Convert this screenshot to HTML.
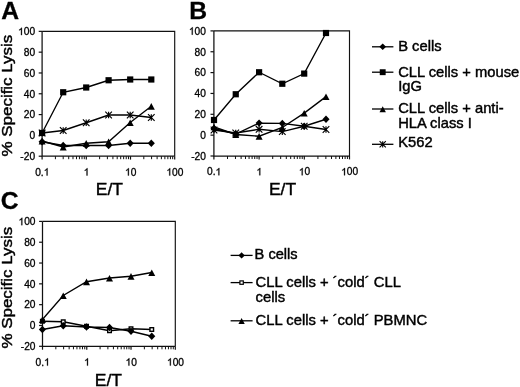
<!DOCTYPE html>
<html><head><meta charset="utf-8"><title>Figure</title>
<style>
html,body{margin:0;padding:0;background:#fff;}
svg{display:block;filter:blur(0.55px);}
text{font-family:"Liberation Sans",sans-serif;fill:#000;stroke:#000;stroke-width:0.3px;}
.t{font-size:10.2px;}
.L{font-size:23.5px;font-weight:bold;}
.X{font-size:17px;stroke-width:0.4px;}
.Y{font-size:15.4px;stroke-width:0.45px;}
.G{font-size:13.9px;stroke-width:0.42px;}
</style></head><body>
<svg width="520" height="387" viewBox="0 0 520 387">
<rect width="520" height="387" fill="#fff"/>
<path d="M42.10 31.35H174.70V156.20" stroke="#111" stroke-width="1.15" fill="none"/>
<path d="M42.10 31.35V156.20H174.70" stroke="#111" stroke-width="1.25" fill="none"/>
<path d="M38.70 31.35H42.10" stroke="#111" stroke-width="1.2"/>
<path transform="translate(18.09,35.10) scale(0.004980)" d="M763 0H583V-1147Q518 -1085 412.5 -1023Q307 -961 223 -930V-1104Q374 -1175 487 -1276Q600 -1377 647 -1472H763Z" fill="#000" stroke="#000" stroke-width="60.2"/><text x="23.76" y="35.10" class="t">00</text>
<path d="M38.70 52.16H42.10" stroke="#111" stroke-width="1.2"/>
<text x="23.76" y="55.91" class="t">80</text>
<path d="M38.70 72.97H42.10" stroke="#111" stroke-width="1.2"/>
<text x="23.76" y="76.72" class="t">60</text>
<path d="M38.70 93.77H42.10" stroke="#111" stroke-width="1.2"/>
<text x="23.76" y="97.52" class="t">40</text>
<path d="M38.70 114.58H42.10" stroke="#111" stroke-width="1.2"/>
<text x="23.76" y="118.33" class="t">20</text>
<path d="M38.70 135.39H42.10" stroke="#111" stroke-width="1.2"/>
<text x="29.43" y="139.14" class="t">0</text>
<path d="M38.70 156.20H42.10" stroke="#111" stroke-width="1.2"/>
<text x="20.36" y="159.95" class="t">-20</text>
<path d="M42.10 156.20V159.60" stroke="#111" stroke-width="1.2"/>
<text x="35.21" y="175.50" class="t">0.</text><path transform="translate(43.72,175.50) scale(0.004980)" d="M763 0H583V-1147Q518 -1085 412.5 -1023Q307 -961 223 -930V-1104Q374 -1175 487 -1276Q600 -1377 647 -1472H763Z" fill="#000" stroke="#000" stroke-width="60.2"/>
<path d="M55.41 156.20V159.20" stroke="#111" stroke-width="1.0"/>
<path d="M63.19 156.20V159.20" stroke="#111" stroke-width="1.0"/>
<path d="M68.71 156.20V159.20" stroke="#111" stroke-width="1.0"/>
<path d="M72.99 156.20V159.20" stroke="#111" stroke-width="1.0"/>
<path d="M76.49 156.20V159.20" stroke="#111" stroke-width="1.0"/>
<path d="M79.45 156.20V159.20" stroke="#111" stroke-width="1.0"/>
<path d="M82.02 156.20V159.20" stroke="#111" stroke-width="1.0"/>
<path d="M84.28 156.20V159.20" stroke="#111" stroke-width="1.0"/>
<path d="M86.30 156.20V159.60" stroke="#111" stroke-width="1.2"/>
<path transform="translate(83.66,175.50) scale(0.004980)" d="M763 0H583V-1147Q518 -1085 412.5 -1023Q307 -961 223 -930V-1104Q374 -1175 487 -1276Q600 -1377 647 -1472H763Z" fill="#000" stroke="#000" stroke-width="60.2"/>
<path d="M99.61 156.20V159.20" stroke="#111" stroke-width="1.0"/>
<path d="M107.39 156.20V159.20" stroke="#111" stroke-width="1.0"/>
<path d="M112.91 156.20V159.20" stroke="#111" stroke-width="1.0"/>
<path d="M117.19 156.20V159.20" stroke="#111" stroke-width="1.0"/>
<path d="M120.69 156.20V159.20" stroke="#111" stroke-width="1.0"/>
<path d="M123.65 156.20V159.20" stroke="#111" stroke-width="1.0"/>
<path d="M126.22 156.20V159.20" stroke="#111" stroke-width="1.0"/>
<path d="M128.48 156.20V159.20" stroke="#111" stroke-width="1.0"/>
<path d="M130.50 156.20V159.60" stroke="#111" stroke-width="1.2"/>
<path transform="translate(125.03,175.50) scale(0.004980)" d="M763 0H583V-1147Q518 -1085 412.5 -1023Q307 -961 223 -930V-1104Q374 -1175 487 -1276Q600 -1377 647 -1472H763Z" fill="#000" stroke="#000" stroke-width="60.2"/><text x="130.70" y="175.50" class="t">0</text>
<path d="M143.81 156.20V159.20" stroke="#111" stroke-width="1.0"/>
<path d="M151.59 156.20V159.20" stroke="#111" stroke-width="1.0"/>
<path d="M157.11 156.20V159.20" stroke="#111" stroke-width="1.0"/>
<path d="M161.39 156.20V159.20" stroke="#111" stroke-width="1.0"/>
<path d="M164.89 156.20V159.20" stroke="#111" stroke-width="1.0"/>
<path d="M167.85 156.20V159.20" stroke="#111" stroke-width="1.0"/>
<path d="M170.42 156.20V159.20" stroke="#111" stroke-width="1.0"/>
<path d="M172.68 156.20V159.20" stroke="#111" stroke-width="1.0"/>
<path d="M174.70 156.20V159.60" stroke="#111" stroke-width="1.2"/>
<path transform="translate(166.39,175.50) scale(0.004980)" d="M763 0H583V-1147Q518 -1085 412.5 -1023Q307 -961 223 -930V-1104Q374 -1175 487 -1276Q600 -1377 647 -1472H763Z" fill="#000" stroke="#000" stroke-width="60.2"/><text x="172.06" y="175.50" class="t">00</text>
<polyline fill="none" stroke="#000" stroke-width="1.35" points="42.10,141.75 63.20,145.50 86.20,145.50 108.60,145.50 130.20,143.25 151.30,143.25"/>
<polygon points="42.10,138.06 45.65,141.75 42.10,145.44 38.55,141.75" fill="#000"/>
<polygon points="63.20,141.81 66.75,145.50 63.20,149.19 59.65,145.50" fill="#000"/>
<polygon points="86.20,141.81 89.75,145.50 86.20,149.19 82.65,145.50" fill="#000"/>
<polygon points="108.60,141.81 112.15,145.50 108.60,149.19 105.05,145.50" fill="#000"/>
<polygon points="130.20,139.56 133.75,143.25 130.20,146.94 126.65,143.25" fill="#000"/>
<polygon points="151.30,139.56 154.85,143.25 151.30,146.94 147.75,143.25" fill="#000"/>
<polyline fill="none" stroke="#000" stroke-width="1.35" points="42.10,133.00 63.20,92.25 86.20,87.50 108.60,80.25 130.20,79.50 151.30,79.50"/>
<rect x="39.00" y="129.90" width="6.20" height="6.20" fill="#000"/>
<rect x="60.10" y="89.15" width="6.20" height="6.20" fill="#000"/>
<rect x="83.10" y="84.40" width="6.20" height="6.20" fill="#000"/>
<rect x="105.50" y="77.15" width="6.20" height="6.20" fill="#000"/>
<rect x="127.10" y="76.40" width="6.20" height="6.20" fill="#000"/>
<rect x="148.20" y="76.40" width="6.20" height="6.20" fill="#000"/>
<polyline fill="none" stroke="#000" stroke-width="1.35" points="42.10,141.00 63.20,147.00 86.20,143.25 108.60,141.75 130.20,122.50 151.30,106.25"/>
<polygon points="42.10,137.88 38.60,144.52 45.60,144.52" fill="#000"/>
<polygon points="63.20,143.88 59.70,150.52 66.70,150.52" fill="#000"/>
<polygon points="86.20,140.12 82.70,146.77 89.70,146.77" fill="#000"/>
<polygon points="108.60,138.62 105.10,145.27 112.10,145.27" fill="#000"/>
<polygon points="130.20,119.38 126.70,126.03 133.70,126.03" fill="#000"/>
<polygon points="151.30,103.12 147.80,109.78 154.80,109.78" fill="#000"/>
<polyline fill="none" stroke="#000" stroke-width="1.35" points="42.10,133.00 63.20,130.50 86.20,122.75 108.60,115.00 130.20,115.00 151.30,117.50"/>
<path d="M38.80 129.70L45.40 136.30M38.80 136.30L45.40 129.70M42.10 129.70L42.10 136.30" stroke="#000" stroke-width="1.15" fill="none"/>
<path d="M59.90 127.20L66.50 133.80M59.90 133.80L66.50 127.20M63.20 127.20L63.20 133.80" stroke="#000" stroke-width="1.15" fill="none"/>
<path d="M82.90 119.45L89.50 126.05M82.90 126.05L89.50 119.45M86.20 119.45L86.20 126.05" stroke="#000" stroke-width="1.15" fill="none"/>
<path d="M105.30 111.70L111.90 118.30M105.30 118.30L111.90 111.70M108.60 111.70L108.60 118.30" stroke="#000" stroke-width="1.15" fill="none"/>
<path d="M126.90 111.70L133.50 118.30M126.90 118.30L133.50 111.70M130.20 111.70L130.20 118.30" stroke="#000" stroke-width="1.15" fill="none"/>
<path d="M148.00 114.20L154.60 120.80M148.00 120.80L154.60 114.20M151.30 114.20L151.30 120.80" stroke="#000" stroke-width="1.15" fill="none"/>
<path d="M213.90 30.90H349.50V156.00" stroke="#111" stroke-width="1.15" fill="none"/>
<path d="M213.90 30.90V156.00H349.50" stroke="#111" stroke-width="1.25" fill="none"/>
<path d="M210.50 30.90H213.90" stroke="#111" stroke-width="1.2"/>
<path transform="translate(188.89,34.65) scale(0.004980)" d="M763 0H583V-1147Q518 -1085 412.5 -1023Q307 -961 223 -930V-1104Q374 -1175 487 -1276Q600 -1377 647 -1472H763Z" fill="#000" stroke="#000" stroke-width="60.2"/><text x="194.56" y="34.65" class="t">00</text>
<path d="M210.50 51.75H213.90" stroke="#111" stroke-width="1.2"/>
<text x="194.56" y="55.50" class="t">80</text>
<path d="M210.50 72.60H213.90" stroke="#111" stroke-width="1.2"/>
<text x="194.56" y="76.35" class="t">60</text>
<path d="M210.50 93.45H213.90" stroke="#111" stroke-width="1.2"/>
<text x="194.56" y="97.20" class="t">40</text>
<path d="M210.50 114.30H213.90" stroke="#111" stroke-width="1.2"/>
<text x="194.56" y="118.05" class="t">20</text>
<path d="M210.50 135.15H213.90" stroke="#111" stroke-width="1.2"/>
<text x="200.23" y="138.90" class="t">0</text>
<path d="M210.50 156.00H213.90" stroke="#111" stroke-width="1.2"/>
<text x="191.16" y="159.75" class="t">-20</text>
<path d="M213.90 156.00V159.40" stroke="#111" stroke-width="1.2"/>
<text x="207.01" y="175.30" class="t">0.</text><path transform="translate(215.52,175.30) scale(0.004980)" d="M763 0H583V-1147Q518 -1085 412.5 -1023Q307 -961 223 -930V-1104Q374 -1175 487 -1276Q600 -1377 647 -1472H763Z" fill="#000" stroke="#000" stroke-width="60.2"/>
<path d="M227.51 156.00V159.00" stroke="#111" stroke-width="1.0"/>
<path d="M235.47 156.00V159.00" stroke="#111" stroke-width="1.0"/>
<path d="M241.11 156.00V159.00" stroke="#111" stroke-width="1.0"/>
<path d="M245.49 156.00V159.00" stroke="#111" stroke-width="1.0"/>
<path d="M249.07 156.00V159.00" stroke="#111" stroke-width="1.0"/>
<path d="M252.10 156.00V159.00" stroke="#111" stroke-width="1.0"/>
<path d="M254.72 156.00V159.00" stroke="#111" stroke-width="1.0"/>
<path d="M257.03 156.00V159.00" stroke="#111" stroke-width="1.0"/>
<path d="M259.10 156.00V159.40" stroke="#111" stroke-width="1.2"/>
<path transform="translate(256.46,175.30) scale(0.004980)" d="M763 0H583V-1147Q518 -1085 412.5 -1023Q307 -961 223 -930V-1104Q374 -1175 487 -1276Q600 -1377 647 -1472H763Z" fill="#000" stroke="#000" stroke-width="60.2"/>
<path d="M272.71 156.00V159.00" stroke="#111" stroke-width="1.0"/>
<path d="M280.67 156.00V159.00" stroke="#111" stroke-width="1.0"/>
<path d="M286.31 156.00V159.00" stroke="#111" stroke-width="1.0"/>
<path d="M290.69 156.00V159.00" stroke="#111" stroke-width="1.0"/>
<path d="M294.27 156.00V159.00" stroke="#111" stroke-width="1.0"/>
<path d="M297.30 156.00V159.00" stroke="#111" stroke-width="1.0"/>
<path d="M299.92 156.00V159.00" stroke="#111" stroke-width="1.0"/>
<path d="M302.23 156.00V159.00" stroke="#111" stroke-width="1.0"/>
<path d="M304.30 156.00V159.40" stroke="#111" stroke-width="1.2"/>
<path transform="translate(298.83,175.30) scale(0.004980)" d="M763 0H583V-1147Q518 -1085 412.5 -1023Q307 -961 223 -930V-1104Q374 -1175 487 -1276Q600 -1377 647 -1472H763Z" fill="#000" stroke="#000" stroke-width="60.2"/><text x="304.50" y="175.30" class="t">0</text>
<path d="M317.91 156.00V159.00" stroke="#111" stroke-width="1.0"/>
<path d="M325.87 156.00V159.00" stroke="#111" stroke-width="1.0"/>
<path d="M331.51 156.00V159.00" stroke="#111" stroke-width="1.0"/>
<path d="M335.89 156.00V159.00" stroke="#111" stroke-width="1.0"/>
<path d="M339.47 156.00V159.00" stroke="#111" stroke-width="1.0"/>
<path d="M342.50 156.00V159.00" stroke="#111" stroke-width="1.0"/>
<path d="M345.12 156.00V159.00" stroke="#111" stroke-width="1.0"/>
<path d="M347.43 156.00V159.00" stroke="#111" stroke-width="1.0"/>
<path d="M349.50 156.00V159.40" stroke="#111" stroke-width="1.2"/>
<path transform="translate(341.19,175.30) scale(0.004980)" d="M763 0H583V-1147Q518 -1085 412.5 -1023Q307 -961 223 -930V-1104Q374 -1175 487 -1276Q600 -1377 647 -1472H763Z" fill="#000" stroke="#000" stroke-width="60.2"/><text x="346.86" y="175.30" class="t">00</text>
<polyline fill="none" stroke="#000" stroke-width="1.35" points="214.00,128.50 235.75,134.00 259.10,123.10 282.30,123.40 304.20,126.25 326.00,119.25"/>
<polygon points="214.00,124.81 217.55,128.50 214.00,132.19 210.45,128.50" fill="#000"/>
<polygon points="235.75,130.31 239.30,134.00 235.75,137.69 232.20,134.00" fill="#000"/>
<polygon points="259.10,119.41 262.65,123.10 259.10,126.79 255.55,123.10" fill="#000"/>
<polygon points="282.30,119.71 285.85,123.40 282.30,127.09 278.75,123.40" fill="#000"/>
<polygon points="304.20,122.56 307.75,126.25 304.20,129.94 300.65,126.25" fill="#000"/>
<polygon points="326.00,115.56 329.55,119.25 326.00,122.94 322.45,119.25" fill="#000"/>
<polyline fill="none" stroke="#000" stroke-width="1.35" points="214.00,120.00 235.75,94.25 259.10,72.25 282.30,83.75 304.20,73.60 326.00,33.00"/>
<rect x="210.90" y="116.90" width="6.20" height="6.20" fill="#000"/>
<rect x="232.65" y="91.15" width="6.20" height="6.20" fill="#000"/>
<rect x="256.00" y="69.15" width="6.20" height="6.20" fill="#000"/>
<rect x="279.20" y="80.65" width="6.20" height="6.20" fill="#000"/>
<rect x="301.10" y="70.50" width="6.20" height="6.20" fill="#000"/>
<rect x="322.90" y="29.90" width="6.20" height="6.20" fill="#000"/>
<polyline fill="none" stroke="#000" stroke-width="1.35" points="214.00,126.80 235.75,134.50 259.10,136.25 282.30,127.50 304.20,113.10 326.00,96.60"/>
<polygon points="214.00,123.67 210.50,130.32 217.50,130.32" fill="#000"/>
<polygon points="235.75,131.38 232.25,138.02 239.25,138.02" fill="#000"/>
<polygon points="259.10,133.12 255.60,139.77 262.60,139.77" fill="#000"/>
<polygon points="282.30,124.38 278.80,131.02 285.80,131.02" fill="#000"/>
<polygon points="304.20,109.97 300.70,116.62 307.70,116.62" fill="#000"/>
<polygon points="326.00,93.47 322.50,100.12 329.50,100.12" fill="#000"/>
<polyline fill="none" stroke="#000" stroke-width="1.35" points="214.00,130.00 235.75,133.00 259.10,129.30 282.30,131.60 304.20,126.25 326.00,129.50"/>
<path d="M210.70 126.70L217.30 133.30M210.70 133.30L217.30 126.70M214.00 126.70L214.00 133.30" stroke="#000" stroke-width="1.15" fill="none"/>
<path d="M232.45 129.70L239.05 136.30M232.45 136.30L239.05 129.70M235.75 129.70L235.75 136.30" stroke="#000" stroke-width="1.15" fill="none"/>
<path d="M255.80 126.00L262.40 132.60M255.80 132.60L262.40 126.00M259.10 126.00L259.10 132.60" stroke="#000" stroke-width="1.15" fill="none"/>
<path d="M279.00 128.30L285.60 134.90M279.00 134.90L285.60 128.30M282.30 128.30L282.30 134.90" stroke="#000" stroke-width="1.15" fill="none"/>
<path d="M300.90 122.95L307.50 129.55M300.90 129.55L307.50 122.95M304.20 122.95L304.20 129.55" stroke="#000" stroke-width="1.15" fill="none"/>
<path d="M322.70 126.20L329.30 132.80M322.70 132.80L329.30 126.20M326.00 126.20L326.00 132.80" stroke="#000" stroke-width="1.15" fill="none"/>
<path d="M42.50 221.40H175.30V346.30" stroke="#111" stroke-width="1.15" fill="none"/>
<path d="M42.50 221.40V346.30H175.30" stroke="#111" stroke-width="1.25" fill="none"/>
<path d="M39.10 221.40H42.50" stroke="#111" stroke-width="1.2"/>
<path transform="translate(18.49,225.15) scale(0.004980)" d="M763 0H583V-1147Q518 -1085 412.5 -1023Q307 -961 223 -930V-1104Q374 -1175 487 -1276Q600 -1377 647 -1472H763Z" fill="#000" stroke="#000" stroke-width="60.2"/><text x="24.16" y="225.15" class="t">00</text>
<path d="M39.10 242.22H42.50" stroke="#111" stroke-width="1.2"/>
<text x="24.16" y="245.97" class="t">80</text>
<path d="M39.10 263.03H42.50" stroke="#111" stroke-width="1.2"/>
<text x="24.16" y="266.78" class="t">60</text>
<path d="M39.10 283.85H42.50" stroke="#111" stroke-width="1.2"/>
<text x="24.16" y="287.60" class="t">40</text>
<path d="M39.10 304.67H42.50" stroke="#111" stroke-width="1.2"/>
<text x="24.16" y="308.42" class="t">20</text>
<path d="M39.10 325.48H42.50" stroke="#111" stroke-width="1.2"/>
<text x="29.83" y="329.23" class="t">0</text>
<path d="M39.10 346.30H42.50" stroke="#111" stroke-width="1.2"/>
<text x="20.76" y="350.05" class="t">-20</text>
<path d="M42.50 346.30V349.70" stroke="#111" stroke-width="1.2"/>
<text x="35.61" y="365.60" class="t">0.</text><path transform="translate(44.12,365.60) scale(0.004980)" d="M763 0H583V-1147Q518 -1085 412.5 -1023Q307 -961 223 -930V-1104Q374 -1175 487 -1276Q600 -1377 647 -1472H763Z" fill="#000" stroke="#000" stroke-width="60.2"/>
<path d="M55.83 346.30V349.30" stroke="#111" stroke-width="1.0"/>
<path d="M63.62 346.30V349.30" stroke="#111" stroke-width="1.0"/>
<path d="M69.15 346.30V349.30" stroke="#111" stroke-width="1.0"/>
<path d="M73.44 346.30V349.30" stroke="#111" stroke-width="1.0"/>
<path d="M76.95 346.30V349.30" stroke="#111" stroke-width="1.0"/>
<path d="M79.91 346.30V349.30" stroke="#111" stroke-width="1.0"/>
<path d="M82.48 346.30V349.30" stroke="#111" stroke-width="1.0"/>
<path d="M84.74 346.30V349.30" stroke="#111" stroke-width="1.0"/>
<path d="M86.77 346.30V349.70" stroke="#111" stroke-width="1.2"/>
<path transform="translate(84.13,365.60) scale(0.004980)" d="M763 0H583V-1147Q518 -1085 412.5 -1023Q307 -961 223 -930V-1104Q374 -1175 487 -1276Q600 -1377 647 -1472H763Z" fill="#000" stroke="#000" stroke-width="60.2"/>
<path d="M100.09 346.30V349.30" stroke="#111" stroke-width="1.0"/>
<path d="M107.89 346.30V349.30" stroke="#111" stroke-width="1.0"/>
<path d="M113.42 346.30V349.30" stroke="#111" stroke-width="1.0"/>
<path d="M117.71 346.30V349.30" stroke="#111" stroke-width="1.0"/>
<path d="M121.21 346.30V349.30" stroke="#111" stroke-width="1.0"/>
<path d="M124.18 346.30V349.30" stroke="#111" stroke-width="1.0"/>
<path d="M126.74 346.30V349.30" stroke="#111" stroke-width="1.0"/>
<path d="M129.01 346.30V349.30" stroke="#111" stroke-width="1.0"/>
<path d="M131.03 346.30V349.70" stroke="#111" stroke-width="1.2"/>
<path transform="translate(125.56,365.60) scale(0.004980)" d="M763 0H583V-1147Q518 -1085 412.5 -1023Q307 -961 223 -930V-1104Q374 -1175 487 -1276Q600 -1377 647 -1472H763Z" fill="#000" stroke="#000" stroke-width="60.2"/><text x="131.23" y="365.60" class="t">0</text>
<path d="M144.36 346.30V349.30" stroke="#111" stroke-width="1.0"/>
<path d="M152.15 346.30V349.30" stroke="#111" stroke-width="1.0"/>
<path d="M157.68 346.30V349.30" stroke="#111" stroke-width="1.0"/>
<path d="M161.97 346.30V349.30" stroke="#111" stroke-width="1.0"/>
<path d="M165.48 346.30V349.30" stroke="#111" stroke-width="1.0"/>
<path d="M168.44 346.30V349.30" stroke="#111" stroke-width="1.0"/>
<path d="M171.01 346.30V349.30" stroke="#111" stroke-width="1.0"/>
<path d="M173.27 346.30V349.30" stroke="#111" stroke-width="1.0"/>
<path d="M175.30 346.30V349.70" stroke="#111" stroke-width="1.2"/>
<path transform="translate(166.99,365.60) scale(0.004980)" d="M763 0H583V-1147Q518 -1085 412.5 -1023Q307 -961 223 -930V-1104Q374 -1175 487 -1276Q600 -1377 647 -1472H763Z" fill="#000" stroke="#000" stroke-width="60.2"/><text x="172.66" y="365.60" class="t">00</text>
<polyline fill="none" stroke="#000" stroke-width="1.35" points="42.40,321.25 63.25,321.75 86.50,326.25 109.50,330.75 131.00,328.75 151.75,329.50"/>
<rect x="40.60" y="319.45" width="3.60" height="3.60" fill="#fff" stroke="#000" stroke-width="1.4"/>
<rect x="61.45" y="319.95" width="3.60" height="3.60" fill="#fff" stroke="#000" stroke-width="1.4"/>
<rect x="84.70" y="324.45" width="3.60" height="3.60" fill="#fff" stroke="#000" stroke-width="1.4"/>
<rect x="107.70" y="328.95" width="3.60" height="3.60" fill="#fff" stroke="#000" stroke-width="1.4"/>
<rect x="129.20" y="326.95" width="3.60" height="3.60" fill="#fff" stroke="#000" stroke-width="1.4"/>
<rect x="149.95" y="327.70" width="3.60" height="3.60" fill="#fff" stroke="#000" stroke-width="1.4"/>
<polyline fill="none" stroke="#000" stroke-width="1.35" points="42.40,329.50 63.25,325.75 86.50,327.00 109.50,327.50 131.00,331.25 151.75,336.25"/>
<polygon points="42.40,325.81 45.95,329.50 42.40,333.19 38.85,329.50" fill="#000"/>
<polygon points="63.25,322.06 66.80,325.75 63.25,329.44 59.70,325.75" fill="#000"/>
<polygon points="86.50,323.31 90.05,327.00 86.50,330.69 82.95,327.00" fill="#000"/>
<polygon points="109.50,323.81 113.05,327.50 109.50,331.19 105.95,327.50" fill="#000"/>
<polygon points="131.00,327.56 134.55,331.25 131.00,334.94 127.45,331.25" fill="#000"/>
<polygon points="151.75,332.56 155.30,336.25 151.75,339.94 148.20,336.25" fill="#000"/>
<polyline fill="none" stroke="#000" stroke-width="1.35" points="42.40,319.50 63.25,295.50 86.50,281.75 109.50,278.00 131.00,276.25 151.75,272.50"/>
<polygon points="42.40,316.38 38.90,323.02 45.90,323.02" fill="#000"/>
<polygon points="63.25,292.38 59.75,299.02 66.75,299.02" fill="#000"/>
<polygon points="86.50,278.62 83.00,285.27 90.00,285.27" fill="#000"/>
<polygon points="109.50,274.88 106.00,281.52 113.00,281.52" fill="#000"/>
<polygon points="131.00,273.12 127.50,279.77 134.50,279.77" fill="#000"/>
<polygon points="151.75,269.38 148.25,276.02 155.25,276.02" fill="#000"/>
<text transform="translate(1.20,19.00) scale(1.050,1)" text-anchor="start" class="L">A</text>
<text transform="translate(189.20,19.00) scale(1.050,1)" text-anchor="start" class="L">B</text>
<text transform="translate(0.80,209.20) scale(1.050,1)" text-anchor="start" class="L">C</text>
<text transform="translate(109.40,195.20) scale(1.030,1)" text-anchor="middle" class="X">E/T</text>
<text transform="translate(282.50,195.20) scale(1.030,1)" text-anchor="middle" class="X">E/T</text>
<text transform="translate(108.40,385.60) scale(1.030,1)" text-anchor="middle" class="X">E/T</text>
<text transform="translate(12.20,95.60) rotate(-90) scale(1.100,1)" text-anchor="middle" class="Y">% Specific Lysis</text>
<text transform="translate(12.20,287.70) rotate(-90) scale(1.100,1)" text-anchor="middle" class="Y">% Specific Lysis</text>
<path d="M372.00 46.80H393.40" stroke="#000" stroke-width="1.3"/><polygon points="382.70,43.57 386.10,46.80 382.70,50.03 379.30,46.80" fill="#000"/>
<path d="M372.00 72.20H393.40" stroke="#000" stroke-width="1.3"/><rect x="379.75" y="69.25" width="5.90" height="5.90" fill="#000"/>
<path d="M372.00 109.00H393.40" stroke="#000" stroke-width="1.3"/><polygon points="382.70,106.16 379.50,112.24 385.90,112.24" fill="#000"/>
<path d="M372.00 144.30H393.40" stroke="#000" stroke-width="1.3"/><path d="M379.60 141.20L385.80 147.40M379.60 147.40L385.80 141.20M382.70 141.20L382.70 147.40" stroke="#000" stroke-width="1.1" fill="none"/>
<text transform="translate(398.20,51.30) scale(1.060,1)" text-anchor="start" class="G">B cells</text>
<text transform="translate(398.20,76.60) scale(1.060,1)" text-anchor="start" class="G">CLL cells + mouse</text>
<text transform="translate(398.20,90.80) scale(1.060,1)" text-anchor="start" class="G">IgG</text>
<text transform="translate(398.20,112.70) scale(1.060,1)" text-anchor="start" class="G">CLL cells + anti-</text>
<text transform="translate(398.20,128.00) scale(1.060,1)" text-anchor="start" class="G">HLA class I</text>
<text transform="translate(398.20,147.40) scale(1.060,1)" text-anchor="start" class="G">K562</text>
<path d="M230.60 255.40H252.60" stroke="#000" stroke-width="1.3"/><polygon points="241.60,252.20 244.80,255.40 241.60,258.60 238.40,255.40" fill="#000"/>
<path d="M230.60 282.60H252.60" stroke="#000" stroke-width="1.3"/><rect x="239.90" y="280.90" width="3.40" height="3.40" fill="#fff" stroke="#000" stroke-width="1.2"/>
<path d="M230.60 320.80H252.60" stroke="#000" stroke-width="1.3"/><polygon points="241.60,318.01 238.45,323.99 244.75,323.99" fill="#000"/>
<text transform="translate(254.60,258.80) scale(1.050,1)" text-anchor="start" class="G">B cells</text>
<text transform="translate(255.60,286.50) scale(1.064,1)" text-anchor="start" class="G">CLL cells + ´cold´ CLL</text>
<text transform="translate(255.60,301.80) scale(1.064,1)" text-anchor="start" class="G">cells</text>
<text transform="translate(255.60,324.60) scale(1.064,1)" text-anchor="start" class="G">CLL cells + ´cold´ PBMNC</text>
</svg>
</body></html>
